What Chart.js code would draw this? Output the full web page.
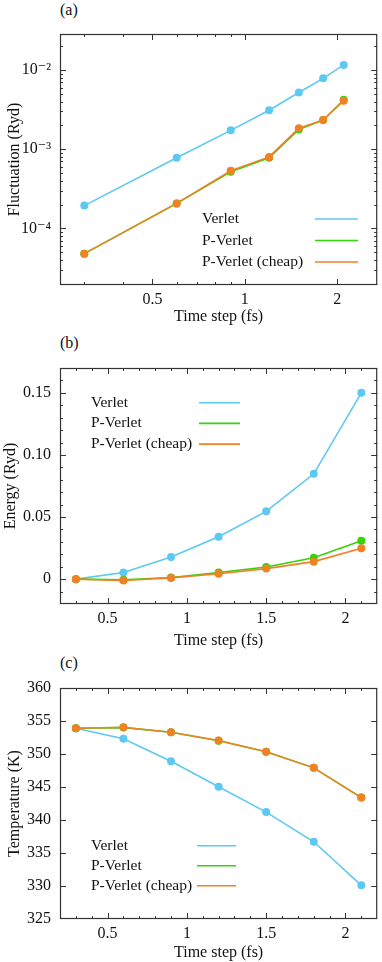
<!DOCTYPE html>
<html>
<head>
<meta charset="utf-8">
<script src="https://cdn.jsdelivr.net/npm/chart.js@4.4.1/dist/chart.umd.min.js"></script>
<style>
    body { margin: 0; background: #fff; }
    #wrap { position: relative; width: 382px; height: 962px; font-family: 'Liberation Serif', 'DejaVu Serif', serif; }
    canvas { position: absolute; left: 0; }
    .panel { position: absolute; left: 60px; font-size: 16px; color: #111; }
</style>
</head>
<body>
<div id="wrap">
    <div class="panel" style="top:1px">(a)</div>
    <div class="panel" style="top:334px">(b)</div>
    <div class="panel" style="top:654px">(c)</div>
    <canvas id="chartFluct" width="382" height="326" style="top:0"></canvas>
    <canvas id="chartEnergy" width="382" height="325" style="top:325px"></canvas>
    <canvas id="chartTemp" width="382" height="312" style="top:650px"></canvas>
</div>
<script>
const timeStep = [0.3, 0.6, 0.9, 1.2, 1.5, 1.8, 2.1];
const seriesNames = ['Verlet', 'P-Verlet', 'P-Verlet (cheap)'];
const seriesColors = ['#5cc9f2', '#33d40a', '#f08225'];

const fluctVerlet = [1.94e-4, 7.8e-4, 1.73e-3, 3.1e-3, 5.2e-3, 7.85e-3, 1.16e-2];
const fluctPVerlet = [4.8e-5, 2.07e-4, 5.2e-4, 7.8e-4, 1.78e-3, 2.34e-3, 4.2e-3];
const fluctCheap = [4.8e-5, 2.07e-4, 5.35e-4, 8.0e-4, 1.84e-3, 2.34e-3, 4.1e-3];

const energyVerlet = [0, 0.0053, 0.0178, 0.0341, 0.0546, 0.0848, 0.150];
const energyPVerlet = [0, -0.0005, 0.0013, 0.0053, 0.0098, 0.0173, 0.0309];
const energyCheap = [0, -0.0011, 0.0010, 0.0043, 0.0085, 0.0141, 0.0248];

const tempVerlet = [353.9, 352.3, 348.9, 345.05, 341.2, 336.7, 330.1];
const tempPVerlet = [353.9, 354.0, 353.3, 352.0, 350.35, 347.9, 343.4];
const tempCheap = [353.9, 354.05, 353.3, 352.05, 350.35, 347.9, 343.4];

// tick values and labels
const xTicksLog = [0.5, 1, 2];
const xLabelsLog = ['0.5', '1', '2'];
const xMinorLog = [0.3, 0.4, 0.6, 0.7, 0.8, 0.9];
const yTicksFluct = [1e-4, 1e-3, 1e-2];
const yLabelsFluct = ['10\u207B\u2074', '10\u207B\u00B3', '10\u207B\u00B2'];

const xTicksLin = [0.5, 1, 1.5, 2];
const xLabelsLin = ['0.5', '1', '1.5', '2'];
const yTicksEnergy = [0, 0.05, 0.10, 0.15];
const yLabelsEnergy = ['0', '0.05', '0.10', '0.15'];
const yTicksTemp = [325, 330, 335, 340, 345, 350, 355, 360];
const yLabelsTemp = ['325', '330', '335', '340', '345', '350', '355', '360'];

const FONT = "'Liberation Serif', 'DejaVu Serif', serif";
Chart.defaults.font.family = FONT;
Chart.defaults.font.size = 16;
Chart.defaults.color = '#111';

function pasos(desde, hasta, paso) {
    const out = [];
    for (let v = desde; v <= hasta + 1e-9; v += paso) out.push(+v.toFixed(6));
    return out;
}

function menoresLog(desde, hasta) {
    const out = [];
    for (let e = -6; e <= 0; e++) {
        for (let m = 2; m <= 9; m++) {
            const v = m * Math.pow(10, e);
            if (v >= desde && v <= hasta) out.push(v);
        }
    }
    return out;
}

// gnuplot-like frame: box, inward ticks on all sides, legend text + sample line
const marcoGnuplot = {
    id: 'marcoGnuplot',
    afterDraw(chart, args, opts) {
        const { ctx, chartArea: a, scales: { x, y } } = chart;
        ctx.save();
        ctx.strokeStyle = '#333';
        ctx.lineWidth = 1;
        ctx.beginPath();
        const marcas = (vals, len) => {
            vals.forEach(v => {
                const px = Math.round(x.getPixelForValue(v)) + 0.5;
                if (px < a.left || px > a.right) return;
                ctx.moveTo(px, a.bottom); ctx.lineTo(px, a.bottom - len);
                ctx.moveTo(px, a.top); ctx.lineTo(px, a.top + len);
            });
        };
        const marcasY = (vals, len) => {
            vals.forEach(v => {
                const py = Math.round(y.getPixelForValue(v)) + 0.5;
                if (py < a.top || py > a.bottom) return;
                ctx.moveTo(a.left, py); ctx.lineTo(a.left + len, py);
                ctx.moveTo(a.right, py); ctx.lineTo(a.right - len, py);
            });
        };
        marcas(opts.xMajor || [], 6);
        marcas(opts.xMinor || [], 3);
        marcasY(opts.yMajor || [], 6);
        marcasY(opts.yMinor || [], 3);
        ctx.stroke();
        ctx.lineWidth = 1.2;
        ctx.strokeRect(a.left + 0.5, a.top + 0.5, a.width - 1, a.height - 1);

        const ley = opts.legend;
        if (ley) {
            ctx.font = '15.5px ' + FONT;
            ctx.fillStyle = '#111';
            ctx.textBaseline = 'middle';
            ctx.textAlign = 'left';
            chart.data.datasets.forEach((ds, i) => {
                const yy = ley.y + i * ley.dy;
                ctx.fillText(ds.label, ley.x, yy);
                ctx.strokeStyle = ds.borderColor;
                ctx.lineWidth = 1.6;
                ctx.beginPath();
                ctx.moveTo(ley.x1, yy);
                ctx.lineTo(ley.x2, yy);
                ctx.stroke();
            });
        }
        ctx.restore();
    }
};

function crearGrafico(id, cfg) {
    const datasets = cfg.values.map((vals, i) => ({
        label: seriesNames[i],
        data: timeStep.map((t, k) => ({ x: t, y: vals[k] })),
        borderColor: seriesColors[i],
        backgroundColor: seriesColors[i],
        borderWidth: 1.6,
        pointRadius: 3.2,
        pointHoverRadius: 3.2,
        tension: 0,
        order: 2 - i
    }));

    return new Chart(document.getElementById(id), {
        type: 'line',
        data: { datasets },
        options: {
            responsive: false,
            animation: false,
            events: [],
            layout: { padding: { top: cfg.padTop, right: 1, left: 0, bottom: 0 } },
            plugins: {
                legend: { display: false },
                tooltip: { enabled: false },
                marcoGnuplot: {
                    xMajor: cfg.xTicks, xMinor: cfg.xMinor,
                    yMajor: cfg.yTicks, yMinor: cfg.yMinor,
                    legend: cfg.legend
                }
            },
            scales: {
                x: {
                    type: cfg.xType,
                    min: cfg.xMin, max: cfg.xMax,
                    grid: { display: false, drawTicks: false, tickLength: 0 },
                    border: { display: false },
                    afterFit: s => { s.height = cfg.xHeight; },
                    afterBuildTicks: s => { s.ticks = cfg.xTicks.map(v => ({ value: v })); },
                    ticks: {
                        autoSkip: false, maxRotation: 0, padding: 5,
                        callback: (v, i) => cfg.xLabels[i]
                    },
                    title: { display: true, text: 'Time step (fs)', padding: { top: 0, bottom: 0 } }
                },
                y: {
                    type: cfg.yType,
                    min: cfg.yMin, max: cfg.yMax,
                    grid: { display: false, drawTicks: false, tickLength: 0 },
                    border: { display: false },
                    afterFit: s => { s.width = 60; },
                    afterBuildTicks: s => { s.ticks = cfg.yTicks.map(v => ({ value: v })); },
                    ticks: {
                        autoSkip: false, padding: 9,
                        callback: (v, i) => cfg.yLabels[i]
                    },
                    title: { display: true, text: cfg.yTitle, padding: { top: cfg.yTitlePad, bottom: cfg.yTitlePad } }
                }
            }
        },
        plugins: [marcoGnuplot]
    });
}

crearGrafico('chartFluct', {
    values: [fluctVerlet, fluctPVerlet, fluctCheap],
    xType: 'logarithmic', xMin: 0.25, xMax: 2.7,
    xTicks: xTicksLog, xLabels: xLabelsLog, xMinor: xMinorLog,
    yType: 'logarithmic', yMin: 1.93e-5, yMax: 2.85e-2,
    yTicks: yTicksFluct, yLabels: yLabelsFluct, yMinor: menoresLog(1.93e-5, 2.85e-2),
    yTitle: 'Fluctuation (Ryd)', yTitlePad: 5,
    padTop: 34, xHeight: 41,
    legend: { x: 202, y: 219, dy: 21.5, x1: 315, x2: 358 }
});

crearGrafico('chartEnergy', {
    values: [energyVerlet, energyPVerlet, energyCheap],
    xType: 'linear', xMin: 0.2, xMax: 2.2,
    xTicks: xTicksLin, xLabels: xLabelsLin, xMinor: pasos(0.2, 2.2, 0.1),
    yType: 'linear', yMin: -0.02, yMax: 0.17,
    yTicks: yTicksEnergy, yLabels: yLabelsEnergy, yMinor: pasos(-0.02, 0.17, 0.01),
    yTitle: 'Energy (Ryd)', yTitlePad: 1,
    padTop: 43, xHeight: 46,
    legend: { x: 91, y: 77.7, dy: 20.7, x1: 199, x2: 240 }
});

crearGrafico('chartTemp', {
    values: [tempVerlet, tempPVerlet, tempCheap],
    xType: 'linear', xMin: 0.2, xMax: 2.2,
    xTicks: xTicksLin, xLabels: xLabelsLin, xMinor: pasos(0.2, 2.2, 0.1),
    yType: 'linear', yMin: 325, yMax: 360,
    yTicks: yTicksTemp, yLabels: yLabelsTemp, yMinor: [],
    yTitle: 'Temperature (K)', yTitlePad: 5,
    padTop: 38, xHeight: 43,
    legend: { x: 91, y: 195.7, dy: 20, x1: 197, x2: 236 }
});
</script>
</body>
</html>
